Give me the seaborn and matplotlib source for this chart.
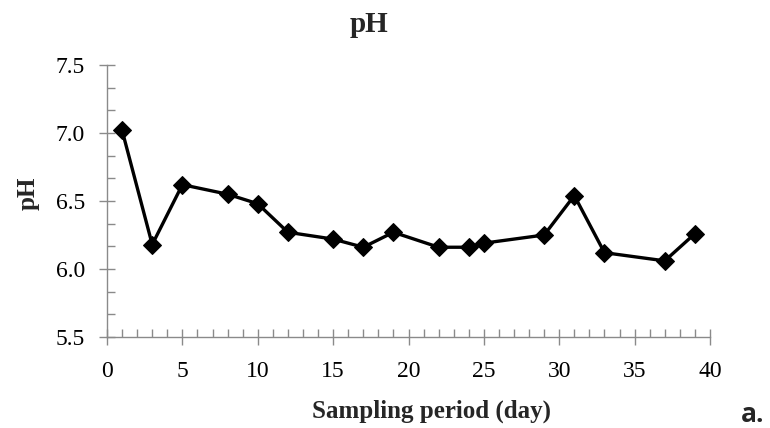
import numpy as np
import pandas as pd
import seaborn as sns
import matplotlib
matplotlib.use("Agg")
from matplotlib import pyplot as plt
from matplotlib.ticker import MultipleLocator, AutoMinorLocator

# sampling days and measured pH
days = [1, 3, 5, 8, 10, 12, 15, 17, 19, 22, 24, 25, 29, 31, 33, 37, 39]
ph = [7.02, 6.18, 6.62, 6.55, 6.48, 6.27, 6.22, 6.16, 6.27, 6.16, 6.16, 6.19, 6.25, 6.54, 6.12, 6.06, 6.26]

x_ticks = [0, 5, 10, 15, 20, 25, 30, 35, 40]
y_ticks = [5.5, 6.0, 6.5, 7.0, 7.5]

sns.set_style("white")
plt.rcParams['font.family'] = ['Liberation Serif', 'DejaVu Serif']

df = pd.DataFrame({'day': days, 'pH': ph})

fig = plt.figure(figsize=(7.7, 4.28), dpi=100)
ax = fig.add_axes([107 / 770, 1 - 337 / 428, (710 - 107) / 770, (337 - 65) / 428])

sns.lineplot(data=df, x='day', y='pH', ax=ax, color='black', linewidth=2.4,
             marker='D', markersize=9, markeredgecolor='black', markerfacecolor='black')

ax.set_xlim(0, 40)
ax.set_ylim(5.5, 7.5)
ax.set_xticks(x_ticks)
ax.set_yticks(y_ticks)
ax.set_yticklabels(['%.1f' % v for v in y_ticks])
ax.xaxis.set_minor_locator(MultipleLocator(1))
ax.yaxis.set_minor_locator(AutoMinorLocator(3))

for side in ['top', 'right']:
    ax.spines[side].set_visible(False)
for side in ['left', 'bottom']:
    ax.spines[side].set_color('#8a8a8a')
    ax.spines[side].set_linewidth(1.0)

ax.tick_params(which='major', direction='inout', length=12, width=1.0, color='#8a8a8a',
               labelsize=17, labelcolor='black')
ax.tick_params(axis='x', which='major', pad=11)
ax.tick_params(axis='y', which='major', pad=10)
ax.tick_params(which='minor', direction='in', length=6, width=1.0, color='#8a8a8a')
ax.tick_params(axis='both', which='both', bottom=True, left=True)

ax.set_xlabel('')
ax.set_ylabel('pH', fontsize=18, fontweight='bold')
ax.yaxis.set_label_coords(-0.112, 0.53)

fig.text(369 / 770, 1 - 24 / 428, 'pH', fontsize=21, fontweight='bold', ha='center', va='center')
fig.text(432 / 770, 1 - 418 / 428, 'Sampling period (day)', fontsize=18, fontweight='bold',
         ha='center', va='baseline')
fig.text(741 / 770, 1 - 422 / 428, 'a.', fontsize=19, fontweight='bold', ha='left', va='baseline',
         family=['Open Sans', 'DejaVu Sans'])

fig.savefig('out.png', dpi=100, facecolor='white')
